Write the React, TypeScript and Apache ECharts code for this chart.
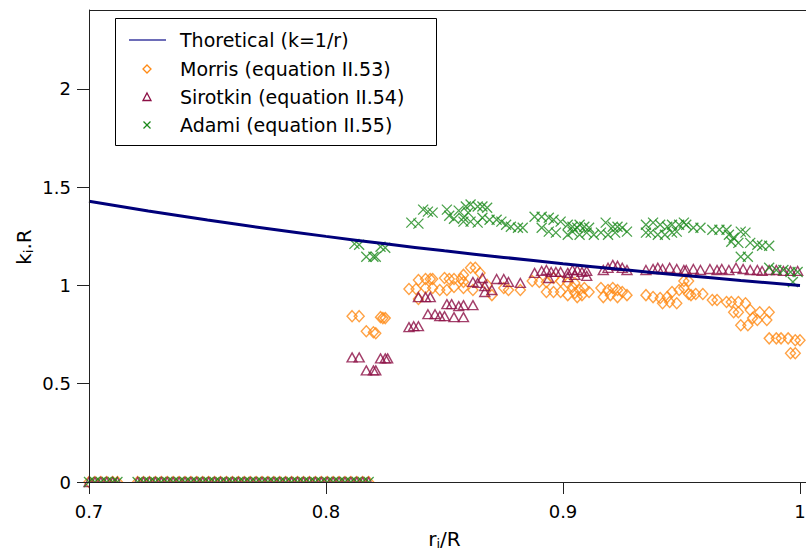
import React, { useEffect, useRef } from "react";
import * as echarts from "echarts";

const thR = [0.7, 0.725, 0.75, 0.775, 0.8, 0.825, 0.85, 0.875, 0.9, 0.925, 0.95, 0.975, 1.0];
const thK = [1.4286, 1.3793, 1.3333, 1.2903, 1.25, 1.2121, 1.1765, 1.1429, 1.1111, 1.0811, 1.0526, 1.0256, 1.0];

const zeroR = [
  0.7, 0.7025, 0.705, 0.7075, 0.71, 0.712, 0.7205, 0.723, 0.7255, 0.728, 0.7305, 0.733, 0.7355, 0.738,
  0.7405, 0.743, 0.7455, 0.748, 0.7505, 0.753, 0.7555, 0.758, 0.7605, 0.763, 0.7655, 0.768, 0.7705,
  0.773, 0.7755, 0.778, 0.7805, 0.783, 0.7855, 0.788, 0.7905, 0.793, 0.7955, 0.798, 0.8005, 0.803,
  0.8055, 0.808, 0.8105, 0.813, 0.8155, 0.818,
];

const morris: number[][] = [
  [0.811, 0.844], [0.814, 0.844], [0.823, 0.839], [0.824, 0.834], [0.825, 0.834], [0.817, 0.767], [0.82, 0.762], [0.821, 0.757],
  [0.835, 0.982], [0.838, 0.982], [0.839, 1.028], [0.842, 1.033], [0.844, 1.033], [0.845, 1.033], [0.839, 0.931], [0.842, 0.987],
  [0.845, 0.987], [0.848, 0.977], [0.851, 0.977], [0.85, 1.038], [0.852, 1.033], [0.854, 1.033], [0.854, 0.992], [0.857, 1.033],
  [0.858, 0.987], [0.861, 1.09], [0.863, 1.09], [0.858, 1.054], [0.858, 1.018], [0.865, 1.064], [0.862, 0.977], [0.868, 1.003],
  [0.87, 0.951], [0.875, 0.987], [0.877, 0.977], [0.882, 0.977], [0.887, 1.023], [0.89, 1.018], [0.893, 1.018], [0.896, 1.038],
  [0.899, 1.023], [0.902, 1.013], [0.905, 1.013], [0.893, 0.967], [0.896, 0.967], [0.899, 0.967], [0.902, 0.951], [0.905, 0.962],
  [0.904, 0.992], [0.907, 0.977], [0.909, 0.987], [0.911, 0.967], [0.906, 0.941], [0.908, 0.951], [0.916, 0.987], [0.919, 0.977],
  [0.921, 0.987], [0.923, 0.977], [0.925, 0.967], [0.917, 0.941], [0.92, 0.951], [0.923, 0.941], [0.927, 0.951], [0.935, 0.951],
  [0.938, 0.941], [0.941, 0.936], [0.944, 0.941], [0.946, 0.967], [0.949, 0.977], [0.951, 0.987], [0.942, 0.91], [0.945, 0.916],
  [0.948, 0.91], [0.951, 1.023], [0.953, 1.023], [0.953, 0.957], [0.954, 0.951], [0.956, 0.957], [0.959, 0.957], [0.963, 0.926],
  [0.965, 0.926], [0.969, 0.916], [0.971, 0.916], [0.974, 0.916], [0.977, 0.91], [0.972, 0.864], [0.974, 0.864], [0.979, 0.875],
  [0.983, 0.864], [0.987, 0.864], [0.986, 0.824], [0.98, 0.834], [0.982, 0.824], [0.975, 0.798], [0.978, 0.798], [0.987, 0.731],
  [0.99, 0.731], [0.992, 0.731], [0.995, 0.731], [0.998, 0.721], [1.0, 0.721], [0.996, 0.655], [0.998, 0.655],
];

const sirotkin: number[][] = [
  [0.811, 0.634], [0.814, 0.634], [0.823, 0.629], [0.825, 0.629], [0.826, 0.629], [0.817, 0.568], [0.82, 0.568], [0.821, 0.568],
  [0.835, 0.788], [0.837, 0.793], [0.839, 0.793], [0.839, 0.941], [0.842, 0.941], [0.844, 0.941], [0.843, 0.854], [0.846, 0.854],
  [0.848, 0.844], [0.85, 0.844], [0.851, 0.905], [0.853, 0.905], [0.854, 0.839], [0.856, 0.895], [0.858, 0.839], [0.858, 0.9],
  [0.862, 0.9], [0.866, 1.038], [0.862, 1.018], [0.864, 1.013], [0.867, 0.997], [0.87, 0.977], [0.867, 0.967], [0.872, 1.033],
  [0.875, 1.033], [0.877, 1.018], [0.882, 1.013], [0.888, 1.064], [0.891, 1.074], [0.893, 1.079], [0.895, 1.069], [0.899, 1.069],
  [0.902, 1.064], [0.904, 1.079], [0.897, 1.069], [0.894, 1.038], [0.902, 1.043], [0.906, 1.079], [0.908, 1.069], [0.91, 1.074],
  [0.917, 1.079], [0.919, 1.09], [0.921, 1.105], [0.923, 1.1], [0.925, 1.09], [0.927, 1.079], [0.935, 1.079], [0.938, 1.084],
  [0.94, 1.09], [0.942, 1.084], [0.945, 1.09], [0.948, 1.084], [0.951, 1.079], [0.905, 1.054], [0.91, 1.049], [0.952, 1.079],
  [0.955, 1.084], [0.958, 1.079], [0.962, 1.084], [0.965, 1.079], [0.967, 1.084], [0.97, 1.079], [0.973, 1.09], [0.976, 1.084],
  [0.979, 1.079], [0.982, 1.079], [0.984, 1.074], [0.987, 1.079], [0.99, 1.079], [0.993, 1.074], [0.996, 1.074], [0.999, 1.074],
];

const adami: number[][] = [
  [0.812, 1.212], [0.814, 1.207], [0.823, 1.197], [0.825, 1.192], [0.817, 1.146], [0.82, 1.146], [0.821, 1.146],
  [0.836, 1.32], [0.839, 1.315], [0.841, 1.386], [0.843, 1.376], [0.845, 1.371], [0.851, 1.386], [0.852, 1.355], [0.854, 1.34],
  [0.856, 1.381], [0.858, 1.325], [0.86, 1.371], [0.859, 1.402], [0.861, 1.412], [0.864, 1.402], [0.866, 1.402], [0.868, 1.396],
  [0.858, 1.345], [0.861, 1.325], [0.864, 1.32], [0.866, 1.345], [0.869, 1.335], [0.872, 1.335], [0.874, 1.325], [0.876, 1.309],
  [0.878, 1.299], [0.881, 1.294], [0.883, 1.294], [0.888, 1.35], [0.891, 1.35], [0.894, 1.345], [0.896, 1.335], [0.899, 1.325],
  [0.902, 1.309], [0.891, 1.294], [0.894, 1.274], [0.897, 1.269], [0.902, 1.258], [0.904, 1.274], [0.906, 1.294], [0.904, 1.299],
  [0.907, 1.309], [0.909, 1.299], [0.911, 1.294], [0.907, 1.258], [0.91, 1.269], [0.913, 1.258], [0.918, 1.32], [0.921, 1.299],
  [0.923, 1.299], [0.925, 1.294], [0.927, 1.274], [0.916, 1.269], [0.919, 1.258], [0.922, 1.269], [0.935, 1.309], [0.938, 1.32],
  [0.941, 1.309], [0.944, 1.299], [0.946, 1.309], [0.949, 1.309], [0.951, 1.32], [0.935, 1.269], [0.937, 1.269], [0.94, 1.258],
  [0.943, 1.258], [0.946, 1.269], [0.948, 1.274], [0.952, 1.309], [0.955, 1.294], [0.958, 1.294], [0.963, 1.284], [0.966, 1.284],
  [0.969, 1.284], [0.97, 1.258], [0.972, 1.243], [0.975, 1.274], [0.977, 1.269], [0.971, 1.223], [0.974, 1.217], [0.979, 1.217],
  [0.982, 1.207], [0.984, 1.202], [0.987, 1.202], [0.975, 1.146], [0.978, 1.146], [0.987, 1.09], [0.99, 1.079], [0.993, 1.079],
  [0.996, 1.069], [0.999, 1.069], [0.997, 1.018],
];

const xTicks = [0.7, 0.8, 0.9, 1.0];
const yTicks = [0, 0.5, 1, 1.5, 2];
const legendNames = [
  "Thoretical (k=1/r)",
  "Morris (equation II.53)",
  "Sirotkin (equation II.54)",
  "Adami (equation II.55)",
];

const FONT = "DejaVu Sans";
const ORANGE = "#ff8a14";
const PURPLE = "#8c0f45";
const GREEN = "#1b8a1b";
const NAVY = "#00007a";

export default function App() {
  const ref = useRef<HTMLDivElement>(null);
  useEffect(() => {
    if (!ref.current) return;
    const chart = echarts.init(ref.current, null, { renderer: "svg" });
    const withZeros = (pts: number[][]) => [...zeroR.map((r) => [r, 0]), ...pts];
    const hollow = (c: string) => ({ color: "rgba(0,0,0,0)", borderColor: c, borderWidth: 1.4 });
    const rowY = [40, 69, 97, 125];
    const subRich = { sub: { fontFamily: FONT, fontSize: 13, verticalAlign: "bottom", padding: [9, 0, 0, 0], color: "#000" } };
    const nameStyle = { fontFamily: FONT, fontSize: 20, color: "#000", rich: subRich };
    chart.setOption({
      animation: false,
      backgroundColor: "#fff",
      grid: { left: 89, top: 10, right: 6, bottom: 69, containLabel: false, outerBoundsMode: "none" },
      xAxis: {
        type: "value",
        min: 0.7,
        max: 1.0,
        z: 10,
        name: "r{sub|i}/R",
        nameLocation: "middle",
        nameGap: 46,
        nameTextStyle: nameStyle,
        splitLine: { show: false },
        axisLine: { lineStyle: { color: "#222", width: 1 } },
        axisTick: { show: true, inside: false, length: 12, lineStyle: { color: "#222" }, customValues: xTicks },
        axisLabel: {
          customValues: xTicks, margin: 20, fontFamily: FONT, fontSize: 18, color: "#000",
          formatter: (v: number) => String(Math.round(v * 10) / 10),
        },
      },
      yAxis: {
        type: "value",
        min: 0,
        max: 2.402,
        z: 10,
        splitLine: { show: false },
        axisLine: { show: true, lineStyle: { color: "#222", width: 1 } },
        axisTick: { show: true, inside: false, length: 12, lineStyle: { color: "#222" }, customValues: yTicks },
        axisLabel: { customValues: yTicks, margin: 18, fontFamily: FONT, fontSize: 18, color: "#000" },
      },
      series: [
        {
          name: legendNames[0],
          type: "line",
          data: thR.map((r, i) => [r, thK[i]]),
          smooth: true,
          showSymbol: false,
          lineStyle: { color: NAVY, width: 3 },
          z: 3,
        },
        {
          name: legendNames[1],
          type: "scatter",
          data: withZeros(morris),
          symbol: "diamond",
          symbolSize: [10, 11],
          itemStyle: hollow(ORANGE),
          z: 2,
        },
        {
          name: legendNames[2],
          type: "scatter",
          data: withZeros(sirotkin),
          symbol: "triangle",
          symbolSize: [10, 9],
          itemStyle: hollow(PURPLE),
          z: 2,
        },
        {
          name: legendNames[3],
          type: "scatter",
          data: withZeros(adami),
          symbol: "path://M0,0L10,10M0,10L10,0",
          symbolSize: 10,
          itemStyle: { color: "none", borderColor: GREEN, borderWidth: 1.3 },
          z: 2,
        },
      ],
      graphic: [
        { type: "rect", z: 5, shape: { x: 89.5, y: 482.5, width: 717, height: 8 }, style: { fill: "#fff" } },
        { type: "line", z: 20, shape: { x1: 89, y1: 10.5, x2: 806, y2: 10.5 }, style: { stroke: "#222", lineWidth: 1 } },
        { type: "line", z: 20, shape: { x1: 800, y1: 482.5, x2: 806, y2: 482.5 }, style: { stroke: "#222", lineWidth: 1 } },
        {
          type: "text", z: 20, x: 24, y: 247, rotation: Math.PI / 2,
          style: { text: "k{sub|i}.R", fontFamily: FONT, fontSize: 20, fill: "#000", align: "center", verticalAlign: "middle", rich: subRich },
        },
        { type: "rect", z: 30, shape: { x: 115.5, y: 18.5, width: 321, height: 127 }, style: { fill: "#fff", stroke: "#000", lineWidth: 1 } },
        { type: "line", z: 31, shape: { x1: 129, y1: rowY[0], x2: 166, y2: rowY[0] }, style: { stroke: "#3c3ca0", lineWidth: 1.6 } },
        { type: "polygon", z: 31, shape: { points: [[147, rowY[1] - 4], [151, rowY[1]], [147, rowY[1] + 4], [143, rowY[1]]] }, style: { fill: "none", stroke: ORANGE, lineWidth: 1.3 } },
        { type: "polygon", z: 31, shape: { points: [[147, rowY[2] - 4], [151, rowY[2] + 3.5], [143, rowY[2] + 3.5]] }, style: { fill: "none", stroke: PURPLE, lineWidth: 1.3 } },
        { type: "line", z: 31, shape: { x1: 143.5, y1: rowY[3] - 3.5, x2: 150.5, y2: rowY[3] + 3.5 }, style: { stroke: GREEN, lineWidth: 1.2 } },
        { type: "line", z: 31, shape: { x1: 143.5, y1: rowY[3] + 3.5, x2: 150.5, y2: rowY[3] - 3.5 }, style: { stroke: GREEN, lineWidth: 1.2 } },
        ...legendNames.map((t, i) => ({
          type: "text",
          z: 31,
          x: 180,
          y: rowY[i],
          style: { text: t, fontFamily: FONT, fontSize: 19, fill: "#000", verticalAlign: "middle", align: "left" },
        })),
      ],
    });
    return () => chart.dispose();
  }, []);
  return <div ref={ref} style={{ position: "fixed", left: 0, top: 0, width: 806, height: 551 }} />;
}
